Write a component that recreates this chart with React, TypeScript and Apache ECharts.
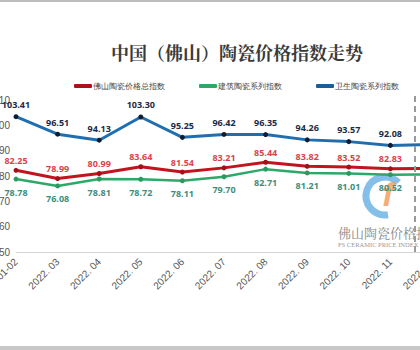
import React, { useEffect, useRef } from "react";
import * as echarts from "echarts";

const categories = ["2022.01-02", "2022. 03", "2022. 04", "2022. 05", "2022. 06", "2022. 07", "2022. 08", "2022. 09", "2022. 10", "2022. 11", "2022. 12"];
const totalIndex = [82.25, 78.99, 80.99, 83.64, 81.54, 83.21, 85.44, 83.82, 83.52, 82.83, 83.05];
const buildingIndex = [78.78, 76.08, 78.81, 78.72, 78.11, 79.7, 82.71, 81.21, 81.01, 80.52, 80.6];
const sanitaryIndex = [103.41, 96.51, 94.13, 103.3, 95.25, 96.42, 96.35, 94.26, 93.57, 92.08, 92.45];
const seriesNames = ["佛山陶瓷价格总指数", "建筑陶瓷系列指数", "卫生陶瓷系列指数"];
const titleText = "中国（佛山）陶瓷价格指数走势";

export default function App() {
  const ref = useRef<HTMLDivElement>(null);
  useEffect(() => {
    if (!ref.current) return;
    const chart = echarts.init(ref.current, undefined, { renderer: "svg" });
    const labelBase = {
      show: true,
      fontSize: 9,
      fontWeight: "bold" as const,
      fontFamily: "Open Sans, Arial, sans-serif",
      formatter: (p: any) => Number(p.value).toFixed(2),
    };
    chart.setOption({
      animation: false,
      backgroundColor: "#fff",
      legend: {
        left: 69,
        top: 77,
        itemWidth: 18,
        itemHeight: 4,
        itemGap: 34,
        icon: "roundRect",
        textStyle: { fontSize: 7.5, color: "#444", padding: [0, 0, 0, -4] },
        data: [
          { name: seriesNames[0], itemStyle: { color: "#b01019" } },
          { name: seriesNames[1], itemStyle: { color: "#2ea868" } },
          { name: seriesNames[2], itemStyle: { color: "#1b5d94" } },
        ],
      },
      grid: { left: 16, right: 28, top: 100, bottom: 98, containLabel: false, outerBoundsMode: "none" },
      xAxis: {
        type: "category",
        data: categories,
        boundaryGap: false,
        axisLine: { show: true, lineStyle: { color: "#d4d4d4", width: 1 } },
        axisTick: { show: false },
        axisLabel: { rotate: 45, fontSize: 10, color: "#555", margin: 8, interval: 0, fontFamily: "Arial, sans-serif" },
        splitLine: { show: false },
      },
      yAxis: {
        type: "value",
        min: 50,
        max: 110,
        interval: 10,
        axisLine: { show: false },
        axisTick: { show: false },
        splitLine: { show: false },
        axisLabel: { fontSize: 10, color: "#555", margin: 6, fontFamily: "Arial, sans-serif" },
      },
      series: [
        {
          name: seriesNames[0],
          type: "line",
          data: totalIndex,
          symbol: "circle",
          symbolSize: 5,
          lineStyle: { color: "#c0141f", width: 3 },
          itemStyle: { color: "#a50f18" },
          label: { ...labelBase, position: "top", distance: 3, color: "#d9434a" },
          z: 3,
        },
        {
          name: seriesNames[1],
          type: "line",
          data: buildingIndex,
          symbol: "circle",
          symbolSize: 5,
          lineStyle: { color: "#2ea868", width: 2.5 },
          itemStyle: { color: "#2b9a60" },
          label: { ...labelBase, position: "bottom", distance: 6, color: "#3d8e7a" },
          z: 2,
        },
        {
          name: seriesNames[2],
          type: "line",
          data: sanitaryIndex,
          symbol: "circle",
          symbolSize: 5,
          lineStyle: { color: "#1f6eb0", width: 3 },
          itemStyle: { color: "#101c33" },
          label: { ...labelBase, position: "top", distance: 5, color: "#1c2a44" },
          z: 4,
        },
      ],
      graphic: [
        { type: "rect", shape: { x: 0, y: 0, width: 460, height: 2 }, style: { fill: "#bdbdbd" }, z: 10 },
        { type: "rect", shape: { x: 0, y: 346, width: 460, height: 4 }, style: { fill: "#c8c8c8" }, z: 10 },
        {
          type: "text",
          x: 237,
          y: 52,
          style: {
            text: titleText,
            align: "center",
            verticalAlign: "middle",
            fontSize: 18,
            fontWeight: "bold",
            fontFamily: "'Noto Serif CJK SC', 'Noto Sans CJK SC', serif",
            fill: "#3a3a3a",
          },
        },
        {
          type: "line",
          shape: { x1: 415, y1: 96, x2: 415, y2: 252 },
          style: { stroke: "#9a9a9a", lineWidth: 2, lineDash: [6, 4] },
          z: 5,
        },
        {
          type: "arc",
          shape: { cx: 385, cy: 196, r: 19, startAngle: Math.PI * 0.45, endAngle: Math.PI * 1.75 },
          style: { stroke: "rgba(90,170,225,0.75)", lineWidth: 7, fill: "none" },
          z: 1,
        },
        {
          type: "text",
          x: 388,
          y: 194,
          style: { text: "f", align: "center", verticalAlign: "middle", fontSize: 34, fontStyle: "italic", fontWeight: "bold", fontFamily: "Arial, sans-serif", fill: "rgba(244,150,80,0.8)" },
          z: 1,
        },
        {
          type: "text",
          x: 338,
          y: 232,
          style: { text: "佛山陶瓷价格指数", verticalAlign: "middle", fontSize: 13, fontFamily: "'Noto Serif CJK SC', 'Noto Sans CJK SC', serif", fill: "#8a8a8a" },
          z: 1,
        },
        {
          type: "text",
          x: 338,
          y: 244,
          style: { text: "FS CERAMIC PRICE INDEX", verticalAlign: "middle", fontSize: 6.5, fontFamily: "'Liberation Serif', serif", fill: "#9a9a9a" },
          z: 1,
        },
      ],
    });
    return () => chart.dispose();
  }, []);
  return (
    <div style={{ position: "fixed", left: 0, top: 0, width: 420, height: 350, overflow: "hidden", background: "#fff" }}>
      <div ref={ref} style={{ width: 460, height: 350 }} />
    </div>
  );
}
